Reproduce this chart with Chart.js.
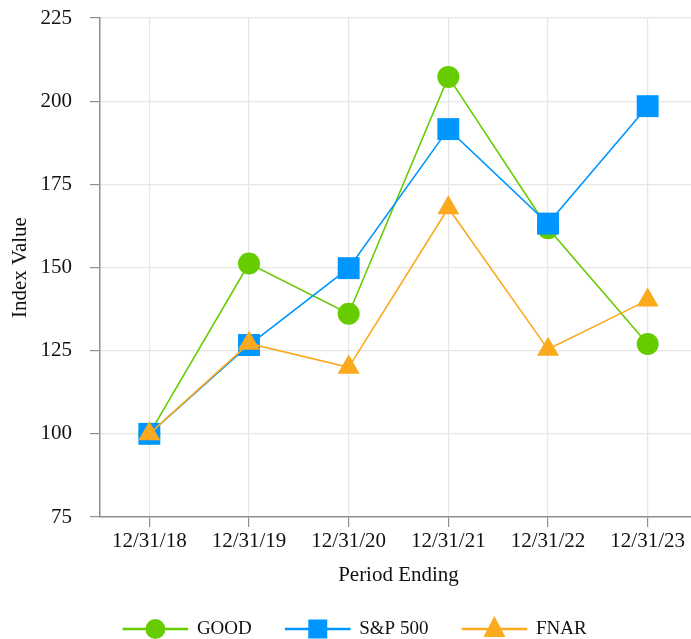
<!DOCTYPE html>
<html>
<head>
<meta charset="utf-8">
<script src="https://cdn.jsdelivr.net/npm/chart.js@4.4.1/dist/chart.umd.min.js"></script>
<style>
  html, body { margin: 0; padding: 0; background: #fff; overflow: hidden; }
  #wrap { width: 713px; height: 639px; }
</style>
</head>
<body>
<div id="wrap"><canvas id="perfChart" width="713" height="639"></canvas></div>
<script>
// --- data ---
const periods = ['12/31/18', '12/31/19', '12/31/20', '12/31/21', '12/31/22', '12/31/23'];
const goodValues = [100, 151.2, 136.1, 207.3, 161.8, 127.0];
const spValues = [100, 126.7, 149.8, 191.6, 163.2, 198.5];
const fnarValues = [100, 127.2, 120.0, 167.9, 125.4, 140.2];
const yTicks = [75, 100, 125, 150, 175, 200, 225];

const GREEN = '#66cc00';
const BLUE = '#0096ff';
const ORANGE = '#fba91d';
const AXIS_GRAY = '#8f8f8f';
const GRID_GRAY = '#e6e6e6';

Chart.defaults.font.family = "'Liberation Serif', 'Times New Roman', serif";
Chart.defaults.font.size = 21;
Chart.defaults.color = '#111';

// legend: draw the marker on top of the short line segment
const legendMarkers = {
    id: 'legendMarkers',
    afterDraw(chart) {
        const lg = chart.legend;
        if (!lg || !lg.legendHitBoxes) return;
        const ctx = chart.ctx;
        const boxW = lg.options.labels.boxWidth;
        lg.legendItems.forEach((item, i) => {
            const hb = lg.legendHitBoxes[i];
            const ds = chart.data.datasets[item.datasetIndex];
            const cx = hb.left + boxW / 2;
            const cy = hb.top + hb.height / 2;
            ctx.save();
            ctx.fillStyle = ds.borderColor;
            ctx.beginPath();
            if (ds.pointStyle === 'circle') {
                ctx.arc(cx, cy, 10, 0, Math.PI * 2);
            } else if (ds.pointStyle === 'rect') {
                ctx.rect(cx - 9.5, cy - 9.5, 19, 19);
            } else {
                ctx.moveTo(cx, cy - 13);
                ctx.lineTo(cx + 11, cy + 8);
                ctx.lineTo(cx - 11, cy + 8);
                ctx.closePath();
            }
            ctx.fill();
            ctx.restore();
        });
    }
};

function series(label, values, color, style, radius, order) {
    return {
        label: label,
        data: values,
        borderColor: color,
        backgroundColor: color,
        borderWidth: 1.6,
        pointStyle: style,
        pointRadius: radius,
        pointHoverRadius: radius,
        pointBackgroundColor: color,
        pointBorderWidth: 0,
        tension: 0,
        order: order
    };
}

new Chart(document.getElementById('perfChart'), {
    type: 'line',
    data: {
        labels: periods,
        datasets: [
            series('GOOD', goodValues, GREEN, 'circle', 11, 3),
            series('S&P 500', spValues, BLUE, 'rect', 15.5, 2),
            series('FNAR', fnarValues, ORANGE, 'triangle', 12.7, 1)
        ]
    },
    options: {
        responsive: false,
        animation: false,
        devicePixelRatio: 1,
        layout: { padding: { left: 0, right: 3, top: 18, bottom: -9.5 } },
        plugins: {
            tooltip: { enabled: false },
            legend: {
                position: 'bottom',
                labels: {
                    boxWidth: 64,
                    boxHeight: 1,
                    padding: 34,
                    font: { size: 19 },
                    color: '#111',
                    sort: (a, b) => a.datasetIndex - b.datasetIndex
                }
            }
        },
        scales: {
            x: {
                offset: true,
                afterFit: axis => {
                    axis.paddingLeft = 0;
                    axis.paddingRight = 0;
                    axis.height = 68.5;
                },
                grid: { color: GRID_GRAY, lineWidth: 1.2, tickLength: 10, tickColor: AXIS_GRAY },
                border: { color: AXIS_GRAY, width: 1.5 },
                ticks: { padding: 2, color: '#111' },
                title: { display: true, text: 'Period Ending', color: '#111', padding: { top: 0, bottom: -3 } }
            },
            y: {
                min: yTicks[0],
                max: yTicks[yTicks.length - 1],
                afterBuildTicks: axis => { axis.ticks = yTicks.map(v => ({ value: v })); },
                afterFit: axis => {
                    axis.paddingTop = 0;
                    axis.paddingBottom = 0;
                    axis.width = 99.5;
                },
                grid: { color: GRID_GRAY, lineWidth: 1.2, tickLength: 9.5, tickColor: AXIS_GRAY },
                border: { color: AXIS_GRAY, width: 1.5 },
                ticks: { padding: 18, color: '#111' },
                title: { display: true, text: 'Index Value', color: '#111', padding: { top: 7.5, bottom: 0 } }
            }
        }
    },
    plugins: [legendMarkers]
});
</script>
</body>
</html>
